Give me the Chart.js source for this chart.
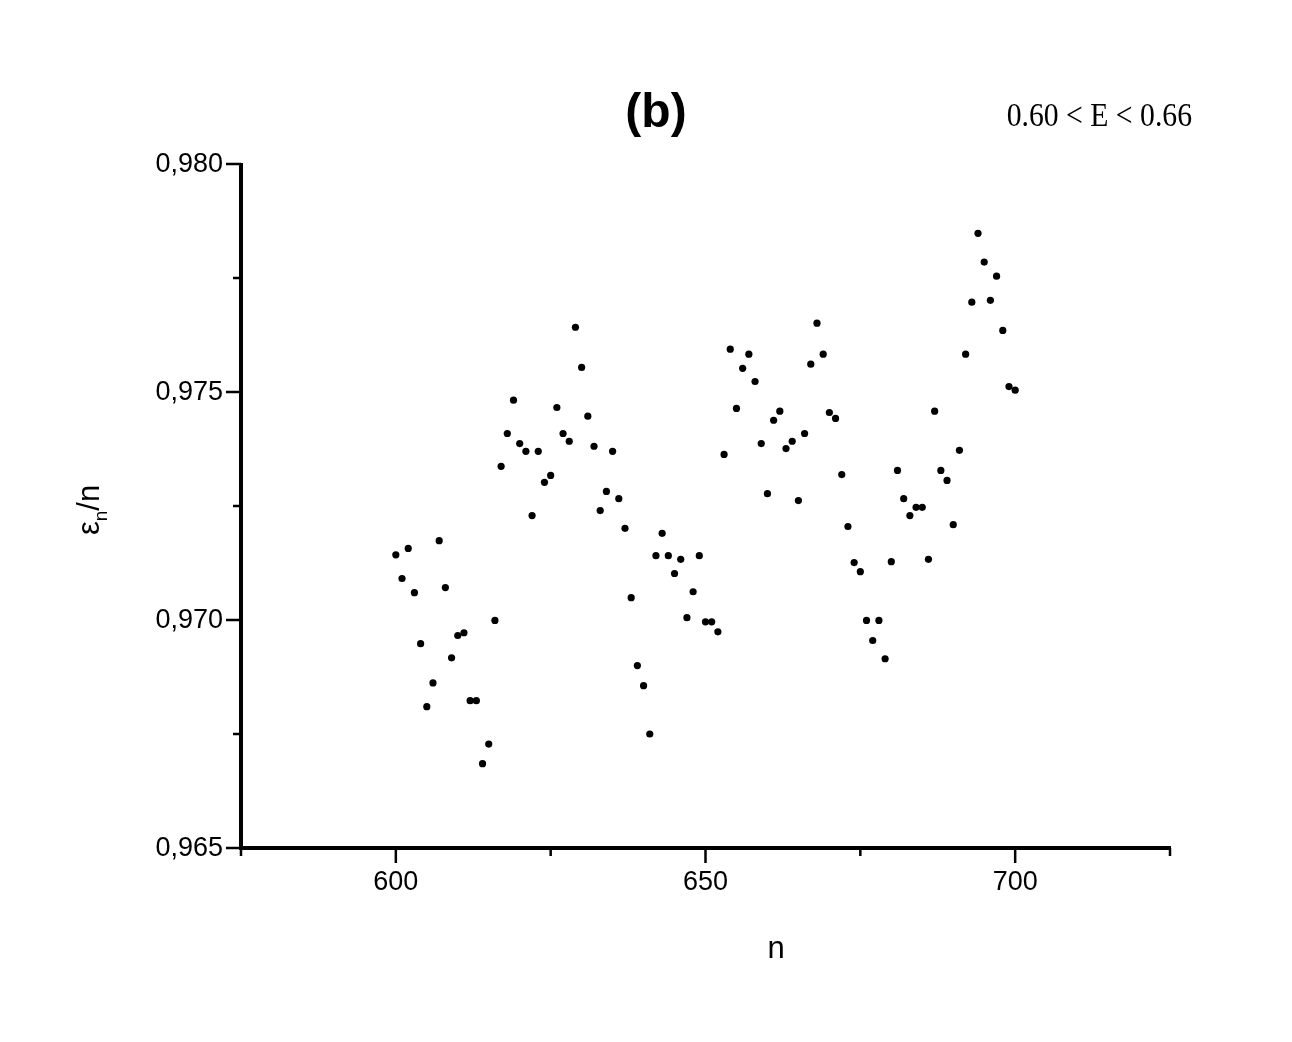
<!DOCTYPE html>
<html>
<head>
<meta charset="utf-8">
<title>(b) 0.60 &lt; E &lt; 0.66</title>
<script src="https://cdn.jsdelivr.net/npm/chart.js@4.4.1/dist/chart.umd.min.js"></script>
<style>
    html, body { margin: 0; padding: 0; background: #fff; }
    #wrap { width: 1292px; height: 1042px; position: relative; }
</style>
</head>
<body>
<div id="wrap"><canvas id="scatterChart"></canvas></div>
<script>
// --- Data ---
const nValues = [];
for (let n = 600; n <= 700; n++) nValues.push(n);

const epsOverN = [
    0.97143, 0.97091, 0.97157, 0.97060, 0.96948, 0.96810, 0.96862, 0.97174, 0.97071, 0.96917,
    0.96966, 0.96972, 0.96823, 0.96823, 0.96685, 0.96728, 0.96999, 0.97337, 0.97409, 0.97482,
    0.97387, 0.97370, 0.97229, 0.97370, 0.97302, 0.97317, 0.97466, 0.97409, 0.97392, 0.97642,
    0.97554, 0.97447, 0.97381, 0.97240, 0.97282, 0.97370, 0.97266, 0.97201, 0.97049, 0.96900,
    0.96856, 0.96750, 0.97141, 0.97190, 0.97141, 0.97102, 0.97133, 0.97005, 0.97062, 0.97141,
    0.96996, 0.96996, 0.96974, 0.97363, 0.97594, 0.97464, 0.97552, 0.97583, 0.97523, 0.97387,
    0.97277, 0.97438, 0.97458, 0.97376, 0.97392, 0.97262, 0.97409, 0.97561, 0.97651, 0.97583,
    0.97455, 0.97442, 0.97319, 0.97205, 0.97126, 0.97106, 0.96999, 0.96955, 0.96999, 0.96915,
    0.97128, 0.97328, 0.97266, 0.97229, 0.97247, 0.97247, 0.97133, 0.97458, 0.97328, 0.97306,
    0.97209, 0.97372, 0.97583, 0.97697, 0.97848, 0.97785, 0.97701, 0.97754, 0.97635, 0.97512,
    0.97504
];

const xMajorTicks = [600, 650, 700];
const xMinorTicks = [575, 625, 675, 725];
const yMajorTicks = [0.965, 0.970, 0.975, 0.980];
const yMinorTicks = [0.9675, 0.9725, 0.9775];
const yTickLabels = ['0,965', '0,970', '0,975', '0,980'];
const xRange = [575, 725];
const yRange = [0.965, 0.980];

const points = nValues.map((n, i) => ({ x: n, y: epsOverN[i] }));

// --- Axes, ticks and texts drawn by hand (Origin style) ---
const originAxes = {
    id: 'originAxes',
    afterDraw(chart) {
        const ctx = chart.ctx;
        const xs = chart.scales.x;
        const ys = chart.scales.y;
        const left = xs.left, right = xs.right;
        const top = ys.top, bottom = ys.bottom;

        ctx.save();
        ctx.strokeStyle = '#000';
        ctx.fillStyle = '#000';
        ctx.lineCap = 'butt';

        // axis lines
        ctx.lineWidth = 4;
        ctx.beginPath();
        ctx.moveTo(left, top - 1);
        ctx.lineTo(left, bottom + 2);
        ctx.moveTo(left - 2, bottom);
        ctx.lineTo(right + 1, bottom);
        ctx.stroke();

        // ticks
        ctx.lineWidth = 2.5;
        ctx.beginPath();
        xMajorTicks.forEach(v => {
            const px = xs.getPixelForValue(v);
            ctx.moveTo(px, bottom); ctx.lineTo(px, bottom + 15);
        });
        xMinorTicks.forEach(v => {
            const px = xs.getPixelForValue(v);
            ctx.moveTo(px, bottom); ctx.lineTo(px, bottom + 8);
        });
        yMajorTicks.forEach(v => {
            const py = ys.getPixelForValue(v);
            ctx.moveTo(left, py); ctx.lineTo(left - 15, py);
        });
        yMinorTicks.forEach(v => {
            const py = ys.getPixelForValue(v);
            ctx.moveTo(left, py); ctx.lineTo(left - 8, py);
        });
        ctx.stroke();

        // tick labels
        ctx.font = '27px "Liberation Sans", Arial, sans-serif';
        ctx.textAlign = 'center';
        ctx.textBaseline = 'top';
        xMajorTicks.forEach(v => {
            ctx.fillText(String(v), xs.getPixelForValue(v), bottom + 21);
        });
        ctx.textAlign = 'right';
        ctx.textBaseline = 'middle';
        yMajorTicks.forEach((v, i) => {
            ctx.fillText(yTickLabels[i], left - 18, ys.getPixelForValue(v) + 1);
        });

        // x axis title
        ctx.font = '31px "Liberation Sans", Arial, sans-serif';
        ctx.textAlign = 'center';
        ctx.textBaseline = 'alphabetic';
        ctx.fillText('n', 776, 958);

        // y axis title: ε with subscript n, then /n
        ctx.save();
        ctx.translate(99, 510);
        ctx.rotate(-Math.PI / 2);
        const bigFont = '31px "Liberation Sans", Arial, sans-serif';
        const subFont = '19px "Liberation Sans", Arial, sans-serif';
        ctx.font = bigFont;
        const wEps = ctx.measureText('ε').width;
        const wSlash = ctx.measureText('/n').width;
        ctx.font = subFont;
        const wSub = ctx.measureText('n').width;
        const total = wEps + wSub + wSlash;
        let cx = -total / 2;
        ctx.textAlign = 'left';
        ctx.font = bigFont;
        ctx.fillText('ε', cx, 0);
        cx += wEps;
        ctx.font = subFont;
        ctx.fillText('n', cx, 8);
        cx += wSub;
        ctx.font = bigFont;
        ctx.fillText('/n', cx, 0);
        ctx.restore();

        // panel title
        ctx.font = 'bold 48px "Liberation Sans", Arial, sans-serif';
        ctx.textAlign = 'center';
        ctx.textBaseline = 'alphabetic';
        ctx.fillText('(b)', 656, 127);

        // energy window label (tall, narrow serif)
        ctx.save();
        ctx.font = '33px "Liberation Serif", "Times New Roman", serif';
        ctx.textAlign = 'right';
        ctx.translate(1192, 126);
        ctx.scale(0.9, 1);
        ctx.fillText('0.60 < E < 0.66', 0, 0);
        ctx.restore();

        ctx.restore();
    }
};

// --- Chart ---
function init() {
    const ctx = document.getElementById('scatterChart').getContext('2d');
    new Chart(ctx, {
        type: 'scatter',
        data: {
            datasets: [{
                label: 'εn/n',
                data: points,
                backgroundColor: '#000',
                borderWidth: 0,
                pointRadius: 3.6,
                pointHoverRadius: 3.6
            }]
        },
        options: {
            responsive: true,
            maintainAspectRatio: false,
            animation: false,
            layout: { padding: { left: 241, right: 122, top: 164, bottom: 194 } },
            plugins: {
                legend: { display: false },
                title: { display: false },
                tooltip: { enabled: false }
            },
            scales: {
                x: { type: 'linear', display: false, min: xRange[0], max: xRange[1] },
                y: { type: 'linear', display: false, min: yRange[0], max: yRange[1] }
            }
        },
        plugins: [originAxes]
    });
}

init();
</script>
</body>
</html>
